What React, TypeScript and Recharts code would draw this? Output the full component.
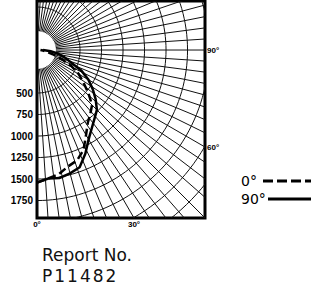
import { ScatterChart, Scatter, XAxis, YAxis, ReferenceArea } from "recharts";

// candela readings, angle from nadir
const angles = [0, 5, 10, 15, 20, 25, 30, 35, 40, 45, 50, 55, 60, 65, 70, 75, 80, 85, 90];
const plane0 = [1540, 1500, 1465, 1400, 1365, 1280, 1140, 1030, 965, 905, 780, 660, 560, 440, 300, 190, 120, 70, 40];
const plane90 = [1540, 1500, 1510, 1485, 1450, 1330, 1200, 1110, 1040, 985, 890, 790, 690, 570, 420, 330, 250, 160, 70];

const rings = [500, 750, 1000, 1250, 1500, 1750, 2000, 2250, 2500, 2750];
const scaleTicks = [500, 750, 1000, 1250, 1500, 1750];
const bottomAngles = [0, 30];
const sideAngles = [90, 60];

const EDGE = 1953; // box half-size in cd
const TOP = 570;
const SPOKE_STEP = 3.75;

const rad = (d: number) => (d * Math.PI) / 180;
const toXY = (deg: number, cd: number) => ({
  x: cd * Math.sin(rad(deg)),
  y: -cd * Math.cos(rad(deg)),
});

const curve0 = angles.map((a, i) => toXY(a, plane0[i]));
const curve90 = angles.map((a, i) => toXY(a, plane90[i]));

const ringLines = rings.map((r) => {
  const pts = [];
  for (let a = 0; a <= 180; a += 2) pts.push(toXY(a, r));
  return pts;
});

const spokeLines: { x: number; y: number }[][] = [];
for (let a = 0; a <= 180; a += SPOKE_STEP) {
  spokeLines.push([toXY(a, 220), toXY(a, 3200)]);
}

const noDot = () => <g />;
const tickFont = { fontFamily: "'Liberation Sans', Arial, sans-serif", fontWeight: 700, fill: "#000" };

export default function App() {
  return (
    <div style={{ position: "absolute", left: 0, top: 0, width: 312, height: 287, background: "#fff" }}>
      <ScatterChart width={312} height={287} margin={{ top: 1, right: 77, bottom: 54, left: 0 }}>
        <XAxis
          type="number"
          dataKey="x"
          domain={[0, EDGE]}
          allowDataOverflow
          ticks={bottomAngles.map((a) => EDGE * Math.tan(rad(a)))}
          tickFormatter={(v: number) => `${Math.round((Math.atan(v / EDGE) * 180) / Math.PI)}°`}
          axisLine={false}
          tickLine={false}
          tickSize={0}
          tickMargin={3}
          height={15}
          tick={{ ...tickFont, fontSize: 8 }}
        />
        <YAxis
          type="number"
          dataKey="y"
          domain={[-EDGE, TOP]}
          allowDataOverflow
          ticks={scaleTicks.map((t) => -t)}
          tickFormatter={(v: number) => String(Math.abs(v))}
          axisLine={false}
          tickLine={false}
          tickSize={0}
          tickMargin={4}
          width={37}
          tick={{ ...tickFont, fontSize: 10 }}
        />
        <YAxis
          yAxisId="side"
          orientation="right"
          type="number"
          domain={[-EDGE, TOP]}
          allowDataOverflow
          ticks={sideAngles.map((a) => -EDGE / Math.tan(rad(a)))}
          tickFormatter={(v: number) => `${Math.round(90 - (Math.atan(-v / EDGE) * 180) / Math.PI)}°`}
          axisLine={false}
          tickLine={false}
          tickSize={0}
          tickMargin={2}
          width={30}
          tick={{ ...tickFont, fontSize: 8, textAnchor: "start" }}
        />
        <Scatter yAxisId="side" data={[{ x: 0, y: 0 }]} shape={noDot} isAnimationActive={false} />
        {ringLines.map((pts, i) => (
          <Scatter
            key={"r" + i}
            data={pts}
            line={{ stroke: "#111", strokeWidth: 1 }}
            stroke="#111"
            fill="#111"
            shape={noDot}
            isAnimationActive={false}
          />
        ))}
        {spokeLines.map((pts, i) => (
          <Scatter
            key={"s" + i}
            data={pts}
            line={{ stroke: "#111", strokeWidth: 1 }}
            stroke="#111"
            fill="#111"
            shape={noDot}
            isAnimationActive={false}
          />
        ))}
        <Scatter
          name="90°"
          data={curve90}
          line={{ stroke: "#000", strokeWidth: 2.5 }}
          stroke="#000"
          fill="#000"
          shape={noDot}
          isAnimationActive={false}
        />
        <Scatter
          name="0°"
          data={curve0}
          line={{ stroke: "#000", strokeWidth: 2.5, strokeDasharray: "8 4" }}
          stroke="#000"
          fill="#000"
          shape={noDot}
          isAnimationActive={false}
        />
        <ReferenceArea x1={0} x2={EDGE} y1={-EDGE} y2={TOP} fill="none" stroke="#000" strokeWidth={3} ifOverflow="visible" />
      </ScatterChart>

      <div style={{ position: "absolute", left: 241, top: 172, fontFamily: "'DejaVu Sans', sans-serif", fontSize: 14, color: "#000", lineHeight: "18px" }}>
        <div style={{ display: "flex", alignItems: "center" }}>
          <span style={{ width: 22 }}>0°</span>
          <svg width={48} height={4}>
            <line x1={0} y1={2} x2={48} y2={2} stroke="#000" strokeWidth={3} strokeDasharray="10 4" />
          </svg>
        </div>
        <div style={{ display: "flex", alignItems: "center" }}>
          <span style={{ width: 27 }}>90°</span>
          <svg width={43} height={4}>
            <line x1={0} y1={2} x2={43} y2={2} stroke="#000" strokeWidth={3} />
          </svg>
        </div>
      </div>

      <div style={{ position: "absolute", left: 42, top: 245, fontFamily: "'DejaVu Sans', sans-serif", fontSize: 17, color: "#111", lineHeight: "21px" }}>
        <div>Report No.</div>
        <div style={{ letterSpacing: 2 }}>P11482</div>
      </div>
    </div>
  );
}
